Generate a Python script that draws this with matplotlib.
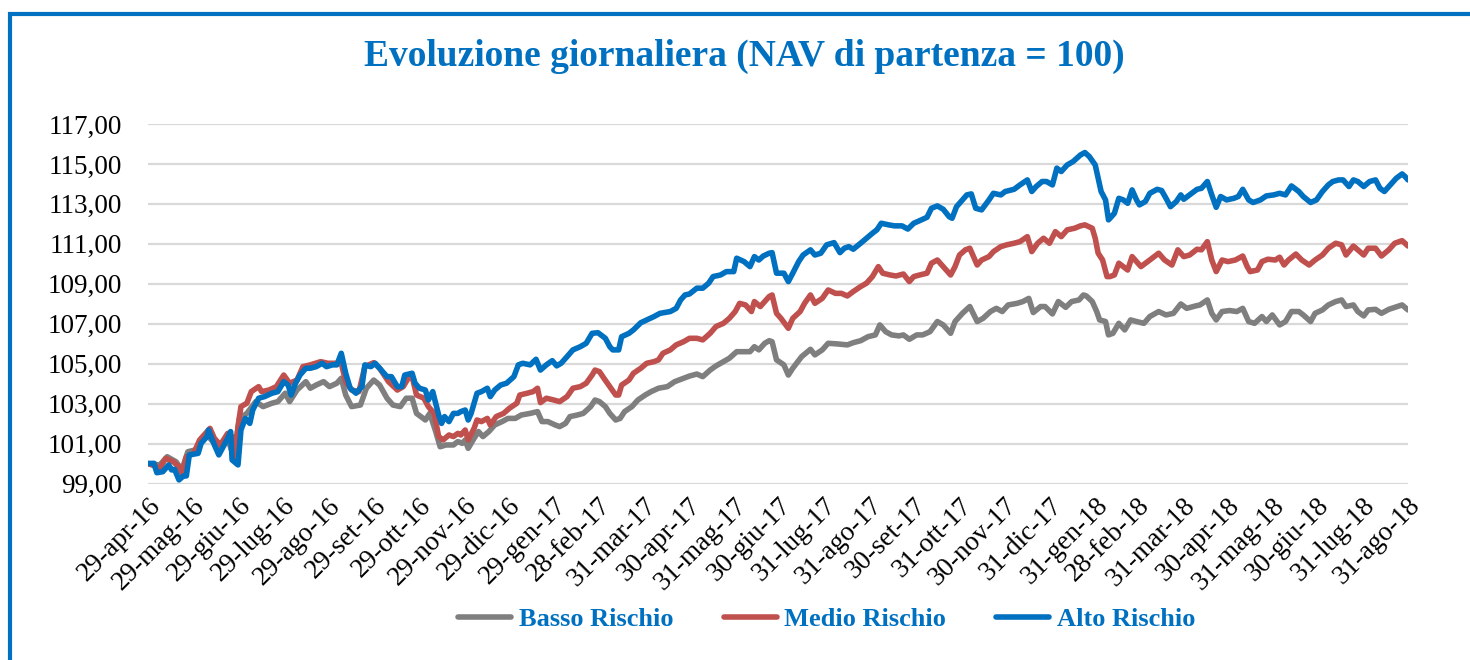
import numpy as np
import matplotlib
matplotlib.use('Agg')
import matplotlib.pyplot as plt
import matplotlib.patches as patches
import pandas as pd

plt.rcParams['font.family'] = ['Liberation Serif', 'DejaVu Serif']

# giorni dal 29-apr-16, NAV
basso = [(0,100.0),(8,99.93),(13,100.34),(19,100.09),(23,99.68),(27,100.59),(32,100.68),(36,101.10),(40,101.43),(43,101.18),
         (49,100.76),(54,101.26),(58,100.34),(62,102.26),(67,102.51),(73,103.10),(78,102.85),(84,103.02),(88,103.10),(93,103.52),
         (96,103.10),(101,103.68),(107,104.10),(110,103.77),(114,103.93),(119,104.10),(123,103.85),(128,104.02),(131,104.27),(134,103.43),
         (138,102.85),(144,102.93),(148,103.77),(153,104.18),(157,103.93),(162,103.27),(166,102.93),(171,102.85),(175,103.27),(179,103.27),
         (182,102.51),(188,102.18),(191,102.51),(195,101.60),(198,100.84),(202,100.93),(207,100.93),(210,101.10),
         (213,101.01),(215,101.18),(217,100.76),(221,101.26),(224,101.60),(227,101.35),(231,101.60),(235,101.93),(240,102.10),(244,102.26),
         (249,102.26),(253,102.43),(259,102.51),(264,102.60),(267,102.10),(271,102.10),(276,101.93),(279,101.85),(283,102.01),(286,102.35),
         (291,102.43),(295,102.51),(300,102.85),(303,103.18),(306,103.10),(310,102.85),(313,102.51),(317,102.18),(320,102.26),(323,102.60),
         (328,102.85),(332,103.18),(337,103.43),(341,103.60),(346,103.77),(352,103.85),(357,104.10),(363,104.27),(367,104.38),(372,104.48),
         (376,104.35),(381,104.68),(385,104.89),(390,105.10),(394,105.27),(399,105.60),(404,105.60),(408,105.60),(411,105.85),(414,105.69),
         (418,106.02),(421,106.15),
         (423,106.10),(426,105.19),(431,104.94),(434,104.43),(437,104.77),(443,105.35),(449,105.72),(452,105.44),(457,105.69),(461,106.02),
         (467,105.99),(474,105.94),(478,106.05),(483,106.15),(488,106.35),(493,106.44),(496,106.94),(500,106.60),(504,106.44),(509,106.39),
         (512,106.44),(516,106.22),(521,106.44),(525,106.44),(530,106.60),(535,107.11),(539,106.94),(544,106.52),(547,107.11),(552,107.52),
         (557,107.86),(562,107.11),(566,107.27),(571,107.61),(575,107.77),(579,107.61),(583,107.94),(589,108.02),(593,108.11),(597,108.27),
         (600,107.56),(605,107.86),(608,107.86),(613,107.49),(617,108.11),(622,107.82),(626,108.11),(631,108.19),(634,108.44),
         (636,108.39),(640,108.11),(643,107.61),(645,107.19),(649,107.11),(651,106.44),(654,106.52),(658,107.02),(662,106.69),(666,107.19),
         (670,107.11),(675,107.02),(679,107.36),(685,107.61),(690,107.44),(695,107.52),(700,107.99),(704,107.77),(710,107.89),(713,107.94),
         (718,108.19),(721,107.52),(724,107.19),(728,107.61),(733,107.66),(738,107.61),(742,107.77),(746,107.11),(750,107.02),(755,107.36),
         (758,107.11),(762,107.44),(767,106.94),(771,107.11),(775,107.61),(780,107.61),(783,107.44),(788,107.11),(791,107.52),(796,107.69),
         (800,107.94),(805,108.11),(809,108.19),(812,107.86),(817,107.94),(820,107.61),(824,107.39),(827,107.69),(832,107.72),(836,107.52),
         (841,107.72),(845,107.82),(850,107.94),(854,107.69)]

medio = [(0,100.0),(6,99.84),(8,99.76),(12,100.26),(17,100.09),(21,99.84),(23,99.51),(26,100.34),(31,100.51),(35,101.18),
         (40,101.60),(42,101.76),(45,101.26),(49,100.93),(54,101.51),(57,101.35),(59,100.26),(61,101.85),(63,102.85),(67,103.02),
         (70,103.60),(75,103.85),(77,103.60),(82,103.68),(87,103.85),(92,104.43),(96,104.02),(101,104.18),(105,104.85),(110,104.94),
         (117,105.10),(122,105.02),(128,105.02),(131,105.02),(134,104.10),(138,103.68),(143,103.60),(147,104.85),(153,105.05),(157,104.77),
         (163,104.10),(169,103.68),(173,103.85),(177,104.35),(179,104.35),(182,103.43),(187,103.27),(190,102.85),(194,102.51),(197,101.35),
         (200,101.18),(204,101.43),(207,101.35),(210,101.51),
         (212,101.43),(215,101.68),(217,101.18),(221,101.76),(223,102.18),(226,102.10),(230,102.26),(232,101.93),(236,102.35),(241,102.51),
         (245,102.77),(250,103.02),(252,103.43),(257,103.52),(261,103.60),(264,103.77),(266,103.05),(270,103.27),(275,103.18),(279,103.10),
         (284,103.35),(288,103.77),(293,103.85),(297,104.02),(301,104.43),(303,104.68),(306,104.60),(309,104.27),(313,103.85),(317,103.43),
         (319,103.43),(321,103.93),(326,104.18),(329,104.52),(334,104.77),(338,105.02),(343,105.10),(346,105.19),(349,105.52),(354,105.69),
         (358,105.94),(363,106.10),(367,106.27),(372,106.27),(376,106.19),(381,106.52),(385,106.86),(390,107.02),(394,107.27),(398,107.61),
         (401,108.02),(405,107.94),(409,107.61),(411,108.11),(415,107.86),(418,108.11),(421,108.36),
         (423,108.44),(426,107.52),(429,107.27),(434,106.77),(437,107.27),(442,107.61),(445,108.02),(449,108.44),(452,108.02),(457,108.27),
         (461,108.69),(466,108.52),(470,108.52),(474,108.39),(478,108.61),(483,108.86),(487,109.03),(491,109.36),(495,109.86),(498,109.53),
         (503,109.44),(507,109.39),(512,109.49),(516,109.11),(519,109.36),(523,109.44),(528,109.53),(531,110.03),(535,110.19),(539,109.86),
         (544,109.44),(547,109.86),(550,110.44),(554,110.70),(557,110.78),(562,109.94),(565,110.19),(570,110.36),(573,110.61),(578,110.86),
         (582,110.95),(587,111.03),(591,111.11),(596,111.36),(599,110.61),(603,111.03),(607,111.28),(611,111.03),(615,111.61),(619,111.36),
         (623,111.70),(628,111.78),(632,111.90),(635,111.95),
         (640,111.78),(642,111.28),(644,110.53),(647,110.19),(650,109.36),(652,109.36),(655,109.44),(658,110.03),(661,109.86),(664,109.69),
         (667,110.36),(670,110.11),(673,109.86),(679,110.19),(685,110.53),(689,110.19),(694,109.94),(698,110.70),(702,110.36),(706,110.44),
         (711,110.73),(714,110.70),(718,111.11),(721,110.19),(724,109.61),(728,110.19),(732,110.11),(737,110.19),(742,110.39),(745,109.86),
         (747,109.61),(752,109.69),(755,110.11),(759,110.23),(764,110.19),(767,110.33),(770,109.94),(773,110.19),(778,110.49),(782,110.19),
         (787,109.94),(791,110.19),(796,110.44),(800,110.78),(805,111.03),(809,110.95),(812,110.44),(817,110.89),(820,110.70),(824,110.44),
         (827,110.78),(832,110.78),(836,110.39),(841,110.70),(845,111.03),(850,111.16),(854,110.89)]

alto = [(0,100.0),(4,100.01),(6,99.54),(10,99.59),(14,99.93),(16,99.68),(18,99.71),(21,99.18),(24,99.38),(26,99.38),
        (28,100.43),(34,100.51),(36,101.01),(40,101.35),(41,101.68),(45,100.93),(48,100.43),(51,100.84),(54,101.26),(56,101.60),
        (57,100.18),(61,99.93),(63,101.68),(66,102.26),(69,102.01),(71,102.68),(75,103.27),(79,103.35),(84,103.52),(88,103.60),
        (92,104.10),(95,103.93),(97,103.43),(100,104.02),(103,104.43),(107,104.77),(110,104.77),(114,104.85),(118,105.02),(121,104.85),
        (125,104.94),(128,104.94),(131,105.52),(134,104.52),(137,103.77),(141,103.52),(145,103.85),(147,104.94),(151,104.85),(154,105.02),
        (157,104.77),(162,104.35),(165,104.35),(169,103.85),(172,103.85),(174,104.43),(179,104.52),(181,104.02),(184,103.77),(188,103.68),
        (190,103.18),(193,103.60),(197,102.43),(199,102.01),(201,102.35),(204,102.10),(207,102.51),(210,102.51),
        (212,102.60),(215,102.68),(217,102.18),(219,102.51),(223,103.52),(226,103.60),(230,103.77),(232,103.35),(235,103.68),(239,103.93),
        (243,104.02),(248,104.35),(251,104.94),(254,105.02),(259,104.94),(263,105.22),(266,104.68),(270,104.94),(274,105.15),(277,104.89),
        (280,105.02),(284,105.35),(288,105.69),(293,105.85),(297,106.02),(301,106.52),(305,106.55),(310,106.27),(313,105.85),(315,105.69),
        (319,105.69),(321,106.35),(326,106.52),(329,106.69),(334,107.05),(338,107.19),(343,107.36),(347,107.52),(354,107.61),(358,107.77),
        (361,108.19),(364,108.44),(367,108.49),(372,108.78),(376,108.78),(380,109.03),(383,109.36),(388,109.44),(392,109.61),(397,109.61),
        (399,110.28),(404,110.11),(408,109.86),(411,110.36),(414,110.19),(417,110.39),(421,110.53),
        (423,110.56),(426,109.53),(431,109.53),(434,109.11),(437,109.53),(441,110.11),(444,110.44),(449,110.70),(452,110.44),(456,110.53),
        (460,110.95),(465,111.06),(469,110.56),(472,110.78),(475,110.86),(478,110.73),(483,111.03),(487,111.28),(491,111.53),(494,111.70),
        (497,112.03),(502,111.95),(506,111.90),(511,111.90),(515,111.74),(519,112.03),(523,112.16),(528,112.33),(531,112.78),(535,112.90),
        (539,112.73),(543,112.36),(545,112.28),(548,112.86),(552,113.20),(555,113.45),(558,113.50),(561,112.78),(565,112.70),(570,113.20),
        (573,113.53),(578,113.45),(581,113.62),(587,113.73),(591,113.95),(596,114.20),(599,113.62),(602,113.87),(606,114.12),(609,114.12),
        (613,113.95),(616,114.79),(619,114.62),(623,114.95),(627,115.12),(632,115.45),(635,115.57),
        (638,115.37),(642,114.95),(644,114.28),(646,113.62),(649,113.20),(651,112.20),(653,112.36),(655,112.53),(658,113.28),(661,113.20),
        (664,113.03),(667,113.70),(670,113.20),(672,112.95),(676,113.12),(679,113.53),(684,113.73),(687,113.67),(690,113.28),(693,112.86),
        (697,113.12),(700,113.45),(702,113.23),(706,113.45),(711,113.73),(714,113.78),(718,114.12),(721,113.45),(724,112.83),(727,113.37),
        (731,113.20),(736,113.28),(739,113.37),(742,113.73),(746,113.20),(749,113.07),(754,113.20),(758,113.40),(763,113.45),(767,113.53),
        (771,113.45),(775,113.90),(780,113.62),(783,113.37),(788,113.07),(792,113.20),(796,113.62),(800,113.95),(803,114.12),(807,114.20),
        (810,114.20),(814,113.87),(817,114.20),(820,114.12),(824,113.87),(828,114.12),(832,114.20),(835,113.78),(838,113.62),(842,113.95),
        (846,114.28),(850,114.50),(852,114.37),(854,114.20)]

serie_nomi = ['Basso Rischio', 'Medio Rischio', 'Alto Rischio']
colori = ['#7F7F7F', '#C0504D', '#0070C0']

data_inizio = '2016-04-29'
tick_date = ['2016-04-29', '2016-05-29', '2016-06-29', '2016-07-29', '2016-08-29', '2016-09-29',
             '2016-10-29', '2016-11-29', '2016-12-29', '2017-01-29', '2017-02-28', '2017-03-31',
             '2017-04-30', '2017-05-31', '2017-06-30', '2017-07-31', '2017-08-31', '2017-09-30',
             '2017-10-31', '2017-11-30', '2017-12-31', '2018-01-31', '2018-02-28', '2018-03-31',
             '2018-04-30', '2018-05-31', '2018-06-30', '2018-07-31', '2018-08-31']
tick_label = ['29-apr-16', '29-mag-16', '29-giu-16', '29-lug-16', '29-ago-16', '29-set-16',
              '29-ott-16', '29-nov-16', '29-dic-16', '29-gen-17', '28-feb-17', '31-mar-17',
              '30-apr-17', '31-mag-17', '30-giu-17', '31-lug-17', '31-ago-17', '30-set-17',
              '31-ott-17', '30-nov-17', '31-dic-17', '31-gen-18', '28-feb-18', '31-mar-18',
              '30-apr-18', '31-mag-18', '30-giu-18', '31-lug-18', '31-ago-18']
y_ticks = [99, 101, 103, 105, 107, 109, 111, 113, 115, 117]

blu = '#0070C0'
fs = 19.5

fig = plt.figure(figsize=(14.7, 6.6), dpi=100)
ax = fig.add_axes([148/1470, 1 - 483.5/660, (1408 - 148)/1470, (483.5 - 124)/660])

for serie, nome, col in zip([basso, medio, alto], serie_nomi, colori):
    gg, vv = zip(*serie)
    ax.plot(gg, vv, color=col, lw=4.0, label=nome, solid_joinstyle='round', solid_capstyle='round')

tick_pos = (pd.to_datetime(tick_date) - pd.Timestamp(data_inizio)).days
ax.set_xlim(0, tick_pos[-1])
ax.set_ylim(99, 117)
ax.set_xticks(tick_pos)
ax.set_xticklabels(tick_label, rotation=45, ha='right', rotation_mode='anchor', fontsize=fs)
ax.set_yticks(y_ticks)
ax.set_yticklabels(['{:.2f}'.format(v).replace('.', ',') for v in y_ticks], fontsize=fs)
ax.tick_params(axis='both', length=0)
ax.tick_params(axis='x', pad=7)
ax.tick_params(axis='y', pad=19)
ax.grid(axis='y', color='#D9D9D9', lw=1.6)
ax.set_axisbelow(True)
for s in ax.spines.values():
    s.set_visible(False)

fig.text(744/1470, 1 - 56/660, 'Evoluzione giornaliera (NAV di partenza = 100)', ha='center', va='center',
         fontsize=27, fontweight='bold', color=blu)

leg = fig.legend(loc='center', bbox_to_anchor=(827/1470, 1 - 619/660), ncol=3, frameon=False,
                 prop={'size': 19, 'weight': 'bold'}, handlelength=2.0, handletextpad=0.3, columnspacing=1.9)
for t in leg.get_texts():
    t.set_color(blu)
for l in leg.get_lines():
    l.set_linewidth(4.0)

# cornice
fig.patches.append(patches.Rectangle((10/1470, -0.1), 1.2, 1.1 - 13.5/660, transform=fig.transFigure,
                                     fill=False, edgecolor=blu, lw=3.0, clip_on=False))

fig.savefig('out.png', dpi=100)
